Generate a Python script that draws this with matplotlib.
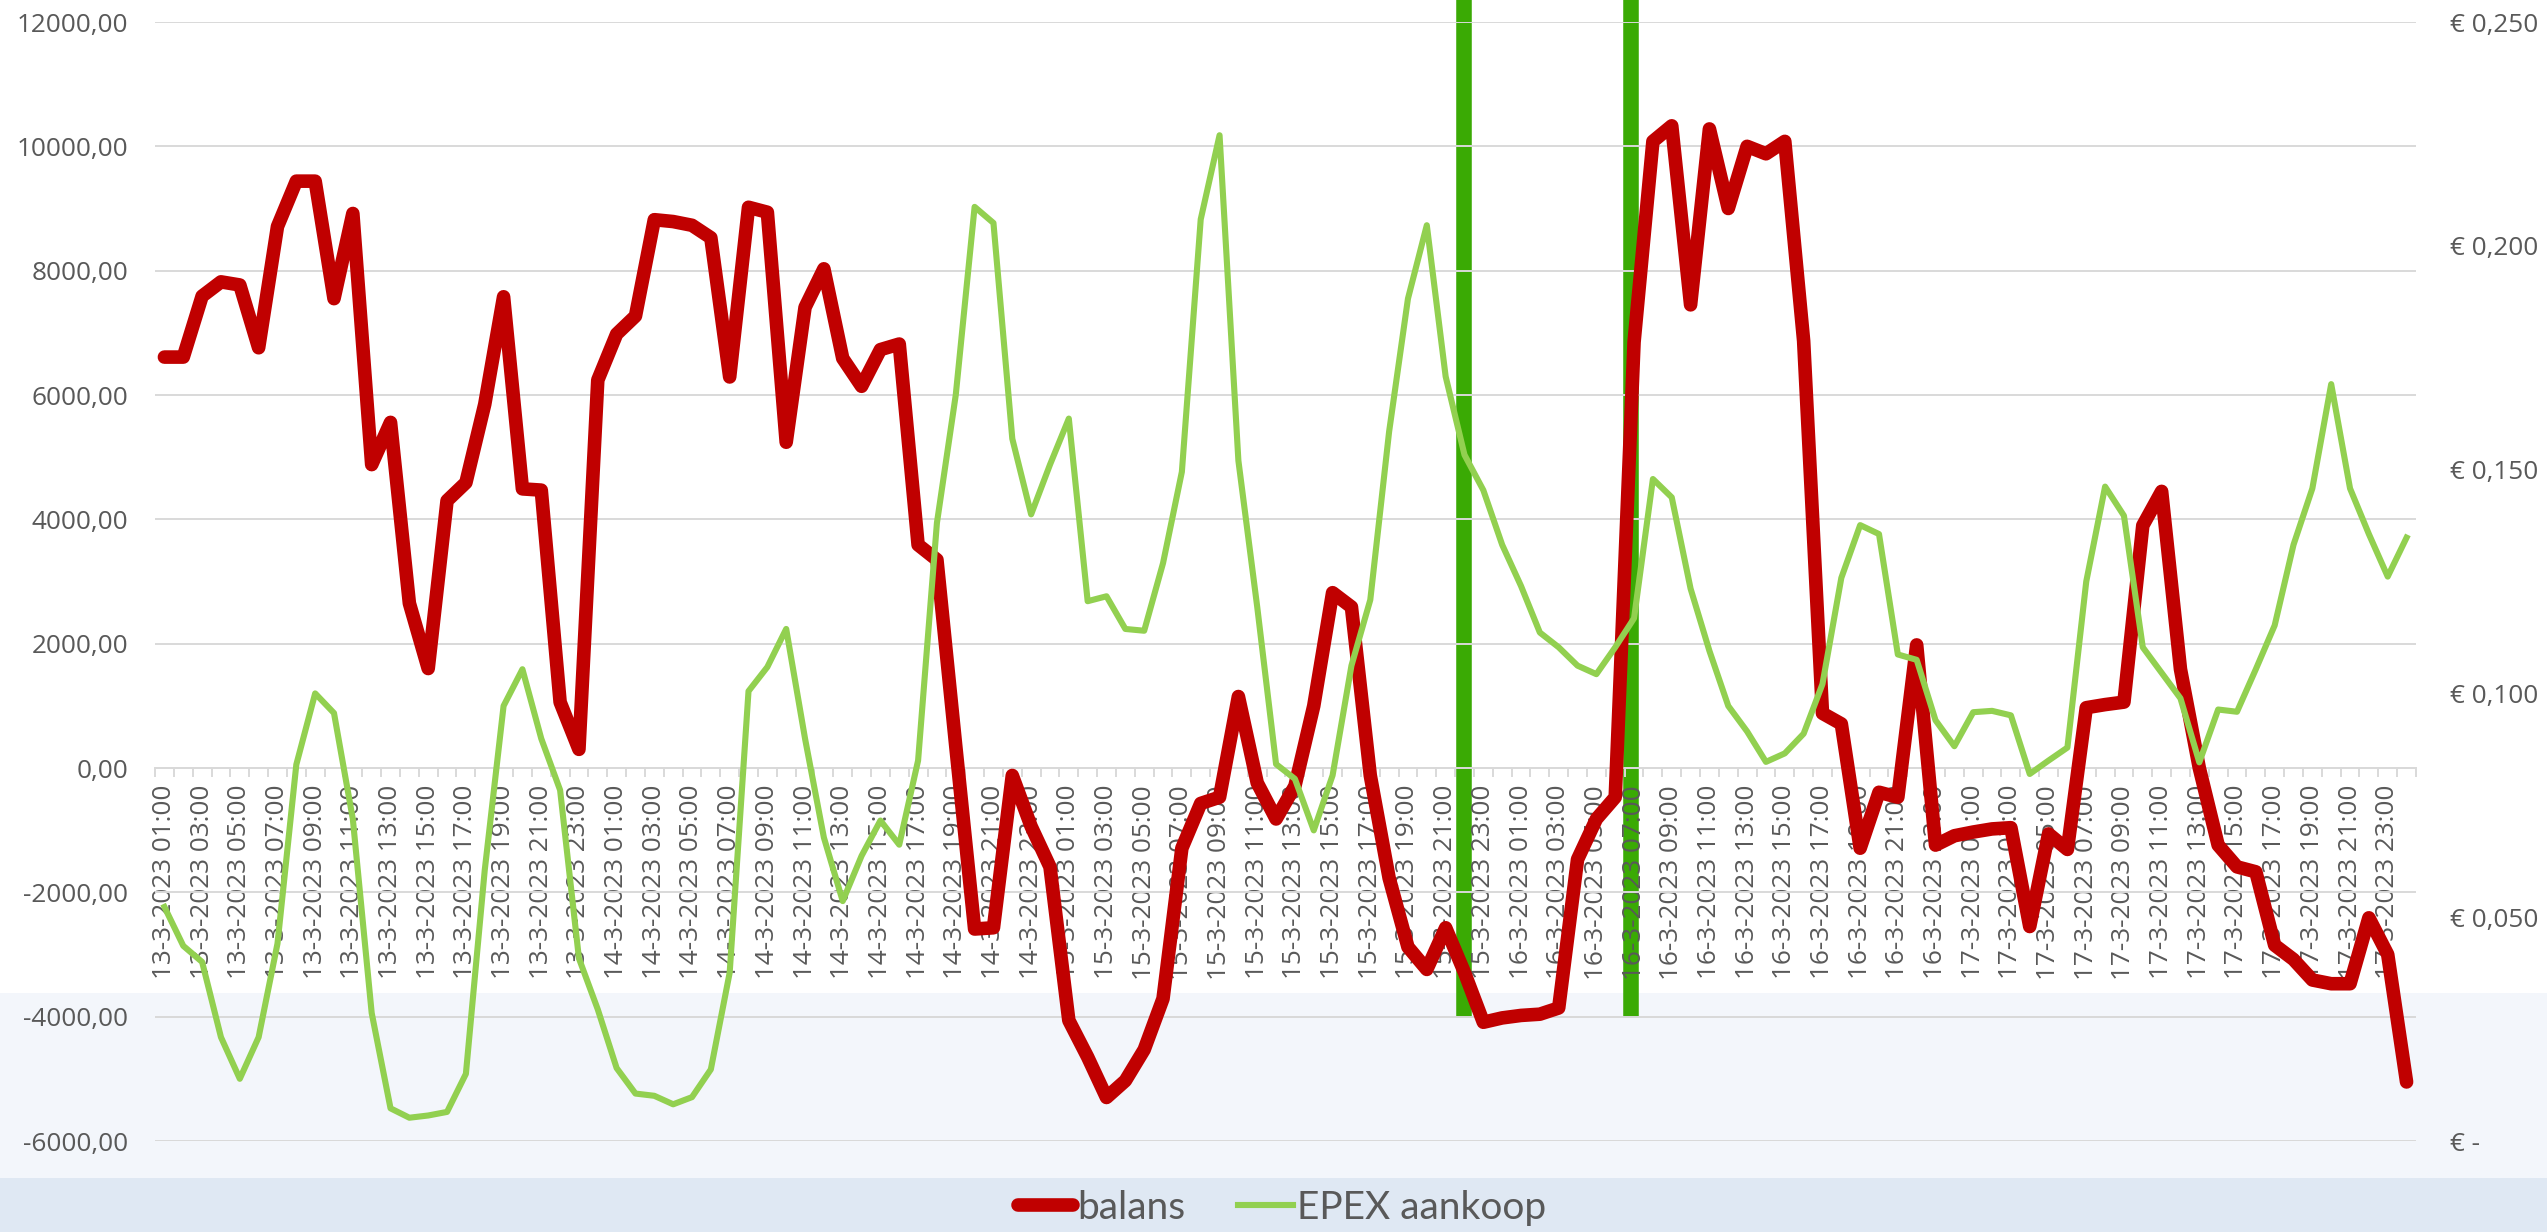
import matplotlib
matplotlib.use('Agg')
import matplotlib.pyplot as plt
import numpy as np
import pandas as pd
from matplotlib.patches import Rectangle
from matplotlib.ticker import FuncFormatter

# balans per uur (linker as)
balans = [6610, 6610, 7590, 7820, 7770, 6760, 8710, 9440, 9440, 7550,
          8920, 4880, 5560, 2650, 1600, 4300, 4590, 5850, 7580, 4490,
          4470, 1060, 300, 6240, 6980, 7270, 8820, 8790, 8730, 8530,
          6290, 9020, 8940, 5240, 7410, 8030, 6590, 6140, 6730, 6820,
          3590, 3350, 350, -2590, -2570, -120, -940, -1590, -4060, -4650,
          -5300, -5030, -4530, -3710, -1290, -570, -470, 1150, -240, -820,
          -290, 1000, 2820, 2590, -120, -1770, -2880, -3240, -2570, -3290,
          -4090, -4020, -3980, -3960, -3860, -1470, -820, -470, 6850, 10080,
          10330, 7450, 10280, 9000, 10000, 9880, 10080, 6870, 880, 710,
          -1290, -390, -470, 1980, -1240, -1090, -1030, -980, -960, -2550,
          -1060, -1310, 970, 1020, 1060, 3900, 4450, 1590, 0, -1240,
          -1590, -1670, -2850, -3080, -3410, -3470, -3470, -2410, -3000, -5050]

# EPEX aankoopprijs per uur (rechter as, euro)
epex = [0.0523, 0.0436, 0.0400, 0.0232, 0.0139, 0.0232, 0.0441, 0.0841, 0.1000, 0.0956,
        0.0719, 0.0286, 0.0073, 0.0052, 0.0057, 0.0065, 0.0150, 0.0605, 0.0972, 0.1054,
        0.0899, 0.0784, 0.0408, 0.0294, 0.0163, 0.0106, 0.0101, 0.0082, 0.0098, 0.0160,
        0.0376, 0.1005, 0.1059, 0.1144, 0.0899, 0.0678, 0.0536, 0.0637, 0.0716, 0.0662,
        0.0850, 0.1381, 0.1667, 0.2087, 0.2051, 0.1569, 0.1400, 0.1511, 0.1614, 0.1206,
        0.1217, 0.1144, 0.1140, 0.1291, 0.1495, 0.2059, 0.2247, 0.1520, 0.1193, 0.0842,
        0.0809, 0.0694, 0.0817, 0.1062, 0.1209, 0.1585, 0.1882, 0.2046, 0.1708, 0.1533,
        0.1454, 0.1332, 0.1240, 0.1136, 0.1103, 0.1062, 0.1043, 0.1103, 0.1168, 0.1479,
        0.1438, 0.1234, 0.1095, 0.0972, 0.0915, 0.0847, 0.0866, 0.0910, 0.1021, 0.1258,
        0.1376, 0.1356, 0.1087, 0.1075, 0.0940, 0.0882, 0.0958, 0.0961, 0.0951, 0.0820,
        0.0850, 0.0879, 0.1250, 0.1462, 0.1397, 0.1103, 0.1046, 0.0989, 0.0846, 0.0964,
        0.0959, 0.1054, 0.1152, 0.1332, 0.1458, 0.1691, 0.1458, 0.1356, 0.1261, 0.1348]

uren = pd.date_range('2023-03-13 01:00', periods=len(balans), freq='h')
labels = [f"{d.day}-{d.month}-{d.year} {d:%H:%M}" for d in uren]

# groene markeringen (positie in uren vanaf het begin)
markeringen = [69.0, 77.85]

grijs = '#595959'
rood = '#c00000'
lichtgroen = '#92d050'
felgroen = '#3aaa04'

fig = plt.figure(figsize=(25.47, 12.32), dpi=100)
fig.add_artist(Rectangle((0, 0), 1, 0.194, transform=fig.transFigure,
                         facecolor='#f3f6fb', edgecolor='none', zorder=-2))
fig.add_artist(Rectangle((0, 0), 1, 0.0438, transform=fig.transFigure,
                         facecolor='#dfe8f3', edgecolor='none', zorder=-1))

ax = fig.add_axes([0.06086, 0.07386, 0.8877, 0.90828])
ax.set_facecolor('none')
x = np.arange(len(balans))

l1, = ax.plot(x, balans, color=rood, lw=9.8, solid_capstyle='round',
              solid_joinstyle='round', zorder=3)
ax.set_xlim(-0.5, len(balans) - 0.5)
ax.set_ylim(-6000, 12000)
ax.set_yticks(range(-6000, 12001, 2000))
ax.yaxis.set_major_formatter(FuncFormatter(lambda v, p: f"{v:.2f}".replace('.', ',')))
ax.grid(axis='y', color='#d9d9d9', lw=1.4)
ax.set_axisbelow(True)

for s in ['top', 'right', 'left']:
    ax.spines[s].set_visible(False)
ax.spines['bottom'].set_position(('data', 0))
ax.spines['bottom'].set_color('#d9d9d9')
ax.spines['bottom'].set_linewidth(1.4)

ax.set_xticks(x[::2])
ax.set_xticklabels(labels[::2], rotation=90, family='Open Sans')
ax.set_xticks(np.arange(-0.5, len(balans)), minor=True)
ax.tick_params(axis='x', which='major', length=0, pad=12.2, labelsize=18.8, labelcolor=grijs)
ax.tick_params(axis='x', which='minor', length=6.5, width=1.4, color='#d9d9d9', direction='out')
ax.tick_params(axis='y', length=0, pad=19.5, labelsize=18.8, labelcolor=grijs)
for t in ax.get_yticklabels():
    t.set_family('Open Sans')

for m in markeringen:
    ax.axvline(m, ymin=0.117, ymax=1.03, color=felgroen, lw=11.2, zorder=0.3, clip_on=False)

ax2 = ax.twinx()
l2, = ax2.plot(x, epex, color=lichtgroen, lw=4.4, solid_joinstyle='round', zorder=3)
ax2.set_ylim(0, 0.25)
ax2.set_yticks(np.arange(0, 0.2501, 0.05))
ax2.yaxis.set_major_formatter(FuncFormatter(
    lambda v, p: '€ -' if abs(v) < 1e-9 else f"€ {v:.3f}".replace('.', ',')))
ax2.tick_params(axis='y', length=0, pad=24.5, labelsize=18.8, labelcolor=grijs)
for t in ax2.get_yticklabels():
    t.set_family('Open Sans')
for s in ax2.spines.values():
    s.set_visible(False)

fig.legend(handles=[l1, l2], labels=['balans', 'EPEX aankoop'], loc='center',
           bbox_to_anchor=(0.5035, 0.0195), ncol=2, frameon=False,
           prop={'family': 'Lato', 'size': 28}, labelcolor=grijs,
           handlelength=1.4, handletextpad=0.12, columnspacing=1.35)

fig.savefig('out.png', dpi=100)
